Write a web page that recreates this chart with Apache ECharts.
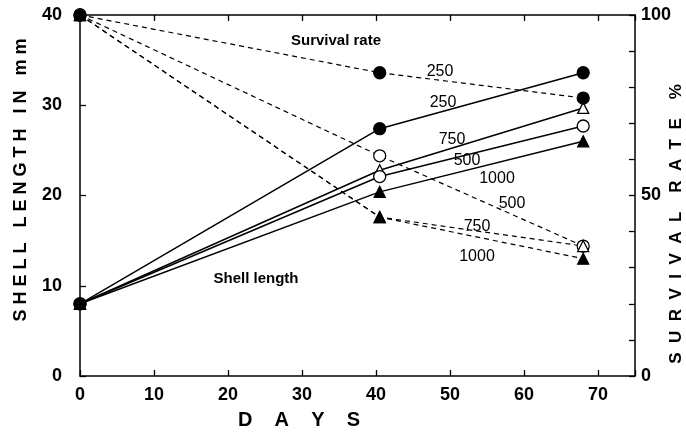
<!DOCTYPE html>
<html>
<head>
<meta charset="utf-8">
<script src="https://cdn.jsdelivr.net/npm/echarts@6/dist/echarts.min.js"></script>
<style>
  html, body { margin: 0; padding: 0; background: #ffffff; }
  #chart { width: 686px; height: 435px; }
</style>
</head>
<body>
<div id="chart"></div>
<script>
"use strict";

// days of sampling
var days = [0, 40.5, 68];

// shell length (mm) by stocking density
var shell250 = [8, 27.4, 33.6];
var shell500 = [8, 22.1, 27.7];
var shell750 = [8, 22.8, 29.7];
var shell1000 = [8, 20.4, 26.0];

// survival rate (%) by stocking density
var surv250 = [100, 84, 77];
var surv500 = [100, 61, 36];
var surv750 = [100, 44, 36];
var surv1000 = [100, 44, 32.5];

var leftLabels = [0, 10, 20, 30, 40];
var rightLabels = [0, 50, 100];

function pts(ys) {
  return days.map(function (d, i) { return [d, ys[i]]; });
}

var FONT = '"Liberation Sans", Arial, sans-serif';

function line(name, ys, axis, symbol, filled, dashed) {
  return {
    name: name,
    type: 'line',
    yAxisIndex: axis,
    data: pts(ys),
    symbol: symbol,
    symbolSize: symbol === 'triangle' ? 11 : 12,
    showSymbol: true,
    lineStyle: { color: '#000', width: dashed ? 1.2 : 1.5, type: dashed ? [5, 4] : 'solid' },
    itemStyle: { color: filled ? '#000' : '#fff', borderColor: '#000', borderWidth: 1.3 },
    emphasis: { disabled: true },
    z: filled ? 4 : 3
  };
}

var chart = echarts.init(document.getElementById('chart'));

var tickStyle = { show: true, inside: true, length: 6, lineStyle: { color: '#000', width: 1.3 } };
var axisLine = { show: true, onZero: false, lineStyle: { color: '#000', width: 1.5 } };
var labelStyle = { color: '#000', fontFamily: FONT, fontWeight: 'bold', fontSize: 18 };

function txt(x, y, s, size, weight, rot) {
  return {
    type: 'text', x: x, y: y, rotation: rot || 0,
    style: {
      text: s, fill: '#000', font: (weight || 'normal') + ' ' + size + 'px ' + FONT,
      align: 'center', verticalAlign: 'middle'
    }
  };
}

var option = {
  backgroundColor: '#ffffff',
  animation: false,
  grid: { left: 80, right: 51, top: 15, bottom: 59 },
  xAxis: [{
    type: 'value', min: 0, max: 75, interval: 10,
    axisLine: axisLine, axisTick: tickStyle, splitLine: { show: false },
    axisLabel: Object.assign({ margin: 10, formatter: function (v) { return v % 10 === 0 ? v : ''; } }, labelStyle)
  }, {
    type: 'value', position: 'top', min: 0, max: 75, interval: 10,
    axisLine: axisLine, axisTick: tickStyle, splitLine: { show: false },
    axisLabel: { show: false }
  }],
  yAxis: [{
    type: 'value', min: 0, max: 40, interval: 10, position: 'left',
    axisLine: axisLine, axisTick: tickStyle, splitLine: { show: false },
    axisLabel: Object.assign({ margin: 18, formatter: function (v) { return leftLabels.indexOf(v) >= 0 ? v : ''; } }, labelStyle)
  }, {
    type: 'value', min: 0, max: 100, interval: 10, position: 'right',
    axisLine: axisLine, axisTick: tickStyle, splitLine: { show: false },
    axisLabel: Object.assign({ margin: 6, formatter: function (v) { return rightLabels.indexOf(v) >= 0 ? v : ''; } }, labelStyle)
  }],
  series: [
    line('Survival 500', surv500, 1, 'circle', false, true),
    line('Survival 750', surv750, 1, 'triangle', false, true),
    line('Survival 1000', surv1000, 1, 'triangle', true, true),
    line('Survival 250', surv250, 1, 'circle', true, true),
    line('Shell 750', shell750, 0, 'triangle', false, false),
    line('Shell 500', shell500, 0, 'circle', false, false),
    line('Shell 1000', shell1000, 0, 'triangle', true, false),
    line('Shell 250', shell250, 0, 'circle', true, false)
  ],
  graphic: [
    txt(21, 180, 'S H E L L   L E N G T H   I N   m m', 18, 'bold', Math.PI / 2),
    txt(676, 224, 'S  U  R  V  I  V  A  L    R  A  T  E    %', 17, 'bold', Math.PI / 2),
    txt(299, 420, 'D    A    Y    S', 20, 'bold'),
    txt(336, 41, 'Survival rate', 15, 'bold'),
    txt(256, 279, 'Shell length', 15, 'bold'),
    txt(440, 72, '250', 16),
    txt(443, 103, '250', 16),
    txt(452, 140, '750', 16),
    txt(467, 161, '500', 16),
    txt(497, 179, '1000', 16),
    txt(512, 204, '500', 16),
    txt(477, 227, '750', 16),
    txt(477, 257, '1000', 16)
  ]
};

chart.setOption(option);
</script>
</body>
</html>
